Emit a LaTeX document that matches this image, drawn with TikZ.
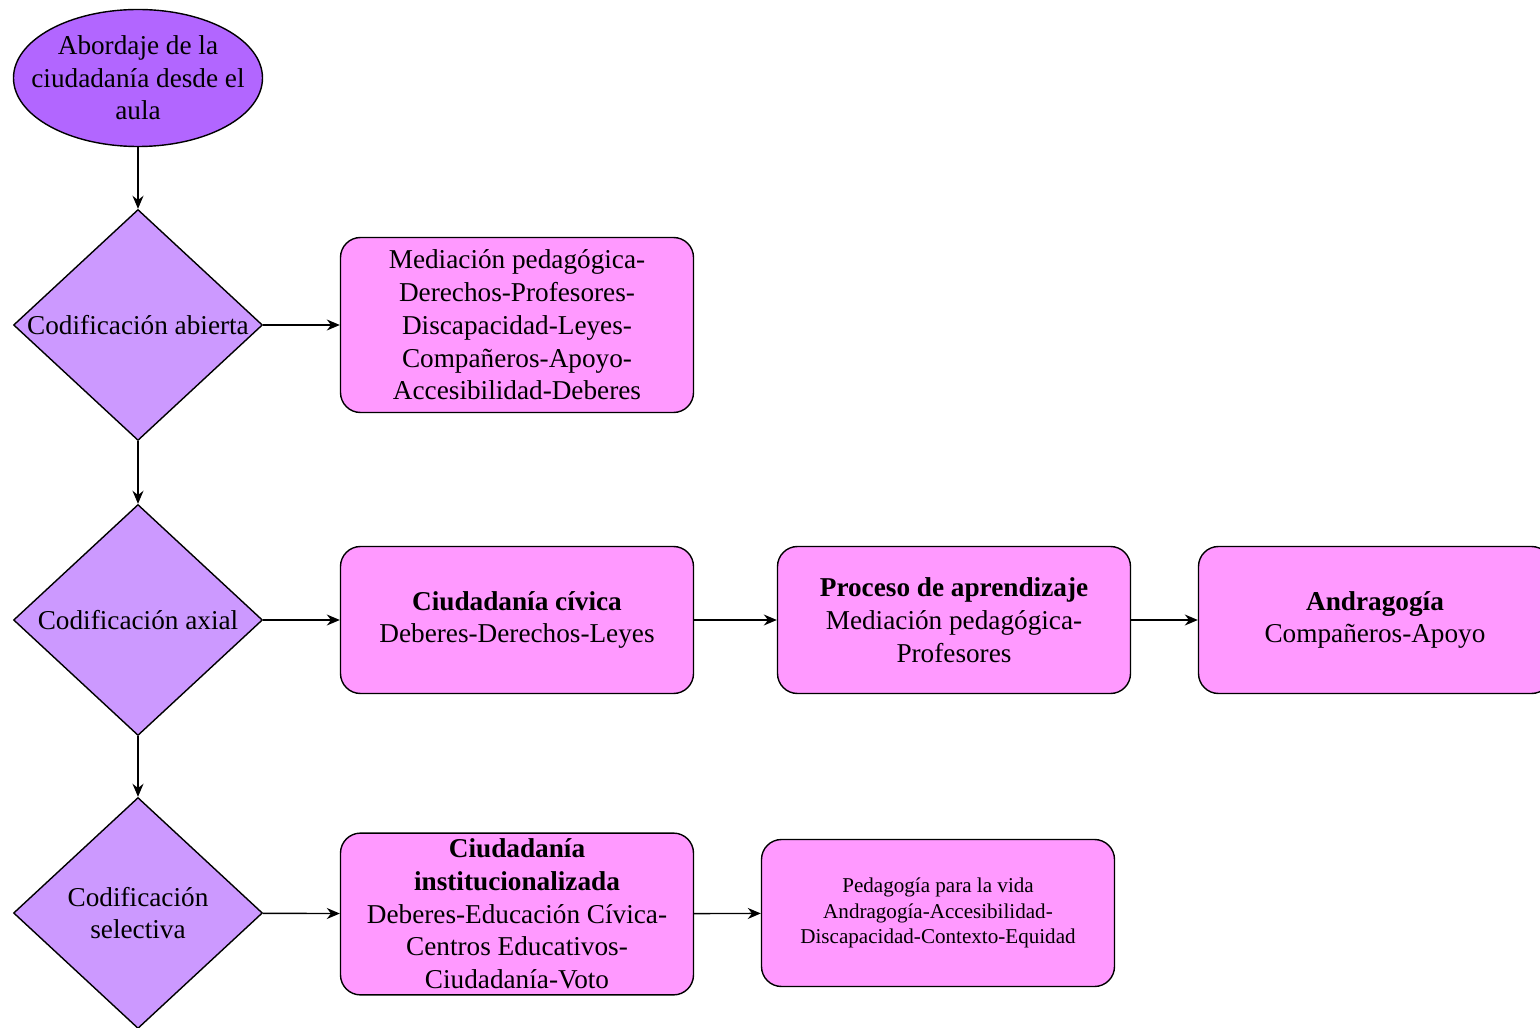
\documentclass[tikz,border=0pt]{standalone}
\usepackage{fontspec}
\setmainfont{Liberation Serif}
\usetikzlibrary{positioning,shapes,arrows.meta,calc}
\definecolor{violeta}{HTML}{B266FF}
\definecolor{lila}{HTML}{CC99FF}
\definecolor{rosa}{HTML}{FF99FF}

\tikzset{
  inicio/.style={ellipse, draw, thick, fill=violeta, minimum width=4.98cm, minimum height=2.74cm, inner sep=0pt},
  fase/.style={diamond, draw, thick, fill=lila, minimum width=4.98cm, minimum height=4.62cm, inner sep=0pt},
  fasetxt/.style={align=center, font=\rmfamily\fontsize{15.5}{18.6}\selectfont},
  caja/.style={rectangle, rounded corners=0.4cm, draw, thick, fill=rosa, minimum width=7.06cm,
    minimum height=2.94cm, align=center, font=\rmfamily\fontsize{15.5}{18.6}\selectfont},
  flecha/.style={draw, thick, -{Stealth[length=2.6mm,width=2.2mm]}}
}

\begin{document}
\begin{tikzpicture}
      \useasboundingbox (0,0) rectangle (30.8,-20.56);
      \clip (0,0) rectangle (30.8,-20.56);

      % columna de fases
      \node[inicio, label={[fasetxt]center:Abordaje de la\\ciudadanía desde el\\aula}] (abordaje) at (2.76,-1.56) {};
      \node[fase, label={[fasetxt]center:Codificación abierta}] (abierta) at (2.76,-6.5) {};
      \node[fase, label={[fasetxt]center:Codificación axial}] (axial) at (2.76,-12.4) {};
      \node[fase, label={[fasetxt]center:Codificación\\selectiva}] (selectiva) at (2.76,-18.26) {};

      % cajas
      \node[caja, minimum height=3.5cm] (codigos) at (10.34,-6.5)
        {Mediación pedagógica-\\Derechos-Profesores-\\Discapacidad-Leyes-\\Compañeros-Apoyo-\\Accesibilidad-Deberes};
      \node[caja] (civica) at (10.34,-12.4) {\textbf{Ciudadanía cívica}\\Deberes-Derechos-Leyes};
      \node[caja] (proceso) at (19.08,-12.4)
        {\textbf{Proceso de aprendizaje}\\Mediación pedagógica-\\Profesores};
      \node[caja] (andra) at (27.5,-12.4) {\textbf{Andragogía}\\Compañeros-Apoyo};
      \node[caja, minimum height=3.16cm] (institucional) at (10.34,-18.28)
        {\textbf{Ciudadanía}\\\textbf{institucionalizada}\\Deberes-Educación Cívica-\\Centros Educativos-\\Ciudadanía-Voto};
      \node[caja, font=\rmfamily\fontsize{12}{14.6}\selectfont] (vida) at (18.76,-18.26)
        {Pedagogía para la vida\\Andragogía-Accesibilidad-\\Discapacidad-Contexto-Equidad};

      % conectores
      \draw[flecha] (abordaje) -- (abierta);
      \draw[flecha] (abierta) -- (axial);
      \draw[flecha] (axial) -- (selectiva);
      \draw[flecha] (abierta) -- (codigos);
      \draw[flecha] (axial) -- (civica);
      \draw[flecha] (civica) -- (proceso);
      \draw[flecha] (proceso) -- (andra);
      \draw[flecha] (selectiva) -- (institucional);
      \draw[flecha] (institucional) -- (vida);
    \end{tikzpicture}
\end{document}
